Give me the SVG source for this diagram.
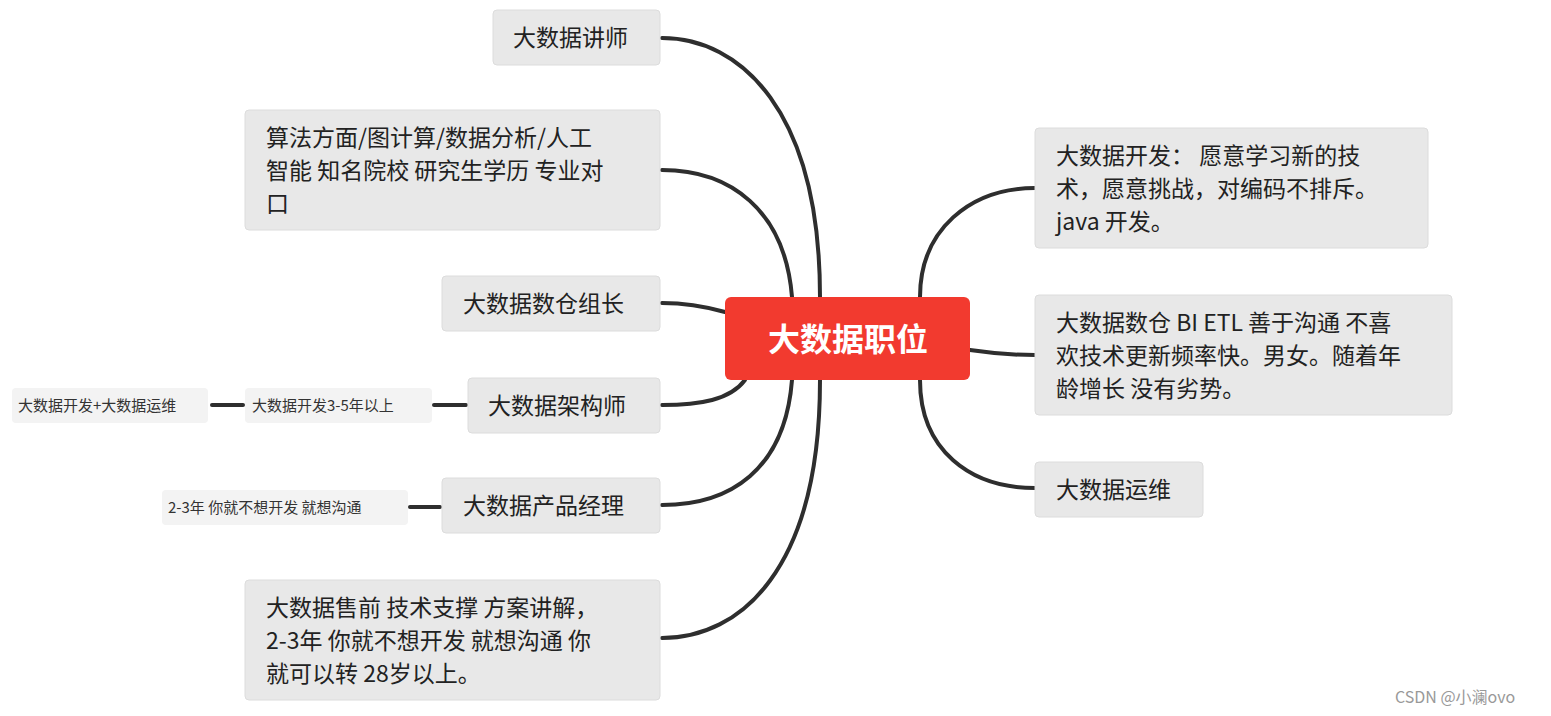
<svg xmlns="http://www.w3.org/2000/svg" width="1551" height="716" viewBox="0 0 1551 716">
<style>
.box{fill:#e8e8e8;stroke:#dcdcdc;stroke-width:1}
.sbox{fill:#f3f3f3}
.t{font-family:"Noto Sans CJK SC","Liberation Sans",sans-serif;font-size:23px;fill:#222}
.s{font-family:"Noto Sans CJK SC","Liberation Sans",sans-serif;font-size:15px;fill:#333}
.c{fill:none;stroke:#2e2e2e;stroke-width:4;stroke-linecap:round}
</style>
<rect width="1551" height="716" fill="#ffffff"/>
<g id="connectors">
<path class="c" d="M820,297 C820,110 740,38 662,38"/>
<path class="c" d="M792,297 C785,210 730,170 662,170"/>
<path class="c" d="M725,312 C700,305 680,303 662,303"/>
<path class="c" d="M745,380 C730,400 700,405 662,405"/>
<path class="c" d="M792,380 C785,470 730,505 662,505"/>
<path class="c" d="M820,380 C820,570 740,638 662,638"/>
<path class="c" d="M920,297 C920,230 970,188 1035,188"/>
<path class="c" d="M970,350 C990,353 1010,355 1035,355"/>
<path class="c" d="M920,380 C920,450 970,488 1035,488"/>
<path class="c" d="M434,405 L466,405"/>
<path class="c" d="M212,405 L243,405"/>
<path class="c" d="M410,507 L440,507"/>
</g>
<g id="center">
<rect x="725" y="297" width="245" height="83" rx="6" fill="#f23a2f"/>
<text x="848" y="351" text-anchor="middle" font-family="Noto Sans CJK SC,Liberation Sans,sans-serif" font-size="32" font-weight="bold" fill="#fff">大数据职位</text>
</g>
<g id="n1"><rect class="box" x="493" y="10" width="167" height="55" rx="4"/><text class="t" x="513" y="46">大数据讲师</text></g>
<g id="n2"><rect class="box" x="245" y="110" width="415" height="120" rx="4"/>
<text class="t" x="266" y="146">算法方面/图计算/数据分析/人工</text>
<text class="t" x="266" y="179">智能 知名院校 研究生学历 专业对</text>
<text class="t" x="266" y="212">口</text></g>
<g id="n3"><rect class="box" x="442" y="276" width="218" height="55" rx="4"/><text class="t" x="463" y="312">大数据数仓组长</text></g>
<g id="n4"><rect class="box" x="468" y="378" width="192" height="55" rx="4"/><text class="t" x="488" y="414">大数据架构师</text></g>
<g id="n5"><rect class="box" x="442" y="478" width="218" height="55" rx="4"/><text class="t" x="463" y="514">大数据产品经理</text></g>
<g id="n6"><rect class="box" x="245" y="580" width="415" height="120" rx="4"/>
<text class="t" x="266" y="616">大数据售前 技术支撑 方案讲解，</text>
<text class="t" x="266" y="649">2-3年 你就不想开发 就想沟通 你</text>
<text class="t" x="266" y="682">就可以转 28岁以上。</text></g>
<g id="s1"><rect class="sbox" x="245" y="388" width="187" height="35" rx="4"/><text class="s" x="252" y="411">大数据开发3-5年以上</text></g>
<g id="s2"><rect class="sbox" x="12" y="388" width="196" height="35" rx="4"/><text class="s" x="18" y="411">大数据开发+大数据运维</text></g>
<g id="s3"><rect class="sbox" x="162" y="490" width="246" height="35" rx="4"/><text class="s" x="168" y="513">2-3年 你就不想开发 就想沟通</text></g>
<g id="r1"><rect class="box" x="1035" y="128" width="393" height="120" rx="4"/>
<text class="t" x="1056" y="164">大数据开发： 愿意学习新的技</text>
<text class="t" x="1056" y="197">术，愿意挑战，对编码不排斥。</text>
<text class="t" x="1056" y="230">java 开发。</text></g>
<g id="r2"><rect class="box" x="1035" y="295" width="417" height="120" rx="4"/>
<text class="t" x="1056" y="331">大数据数仓 BI ETL 善于沟通 不喜</text>
<text class="t" x="1056" y="364">欢技术更新频率快。男女。随着年</text>
<text class="t" x="1056" y="397">龄增长 没有劣势。</text></g>
<g id="r3"><rect class="box" x="1035" y="462" width="168" height="55" rx="4"/><text class="t" x="1056" y="498">大数据运维</text></g>
<text x="1395" y="703" font-family="Noto Sans CJK SC,Liberation Sans,sans-serif" font-size="16" fill="#999">CSDN @小澜ovo</text>
</svg>
